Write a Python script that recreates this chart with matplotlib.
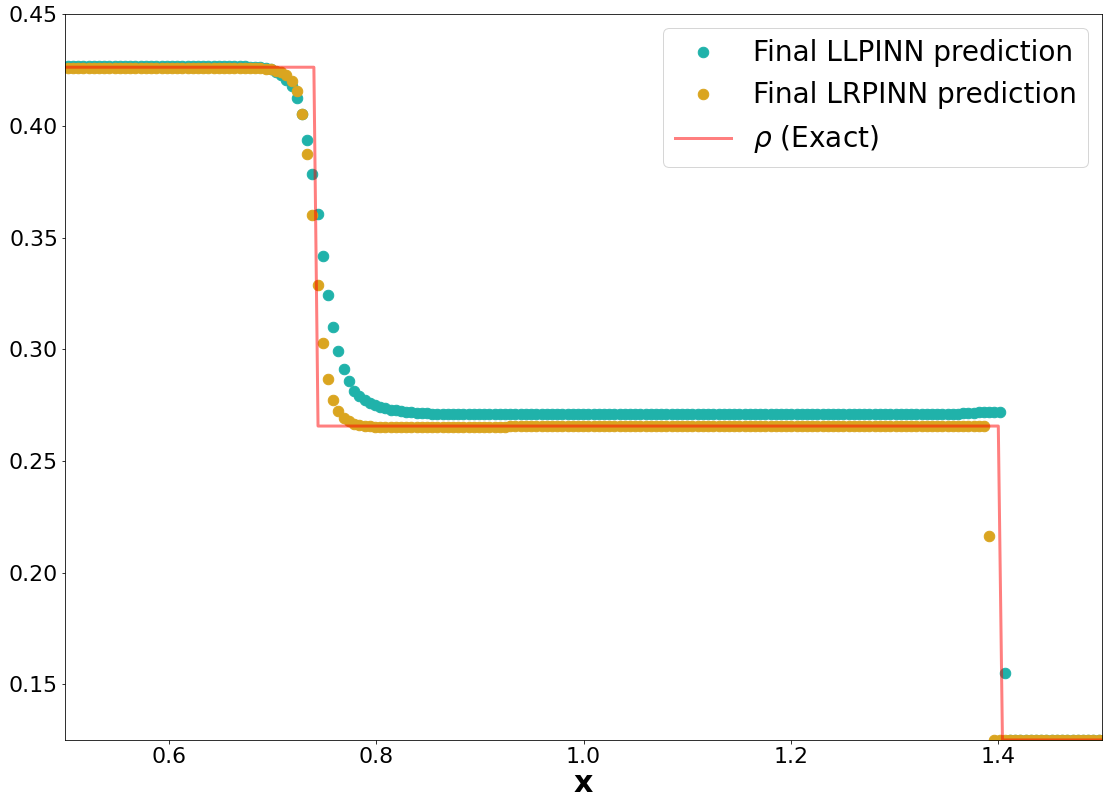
import numpy as np
import matplotlib
matplotlib.use("Agg")
import matplotlib.pyplot as plt

# x grid of the predictions (sampled points)
x_grid = np.linspace(0.5027, 0.5027 + 0.00502 * 199, 200)

llpinn_rho = [
    0.4268, 0.4268, 0.4268, 0.4268, 0.4268, 0.4268, 0.4268, 0.4268, 0.4268, 0.4268,
    0.4268, 0.4268, 0.4268, 0.4268, 0.4268, 0.4268, 0.4268, 0.4268, 0.4268, 0.4268,
    0.4268, 0.4268, 0.4268, 0.4268, 0.4268, 0.4268, 0.4268, 0.4268, 0.4268, 0.4268,
    0.4268, 0.4268, 0.4268, 0.4268, 0.4267, 0.4266, 0.4265, 0.4263, 0.4260, 0.4254,
    0.4243, 0.4226, 0.4205, 0.4179, 0.4124, 0.4052, 0.3937, 0.3783, 0.3605, 0.3418,
    0.3242, 0.3098, 0.2991, 0.2911, 0.2857, 0.2814, 0.2790, 0.2772, 0.2759, 0.2749,
    0.2741, 0.2735, 0.2730, 0.2726, 0.2723, 0.2720, 0.2718, 0.2716, 0.2714, 0.2713,
    0.2712, 0.2711, 0.2710, 0.2710, 0.2710, 0.2710, 0.2710, 0.2710, 0.2710, 0.2710,
    0.2710, 0.2710, 0.2710, 0.2710, 0.2710, 0.2710, 0.2710, 0.2710, 0.2710, 0.2710,
    0.2710, 0.2710, 0.2710, 0.2710, 0.2710, 0.2710, 0.2710, 0.2710, 0.2710, 0.2710,
    0.2710, 0.2710, 0.2710, 0.2710, 0.2710, 0.2710, 0.2710, 0.2710, 0.2710, 0.2710,
    0.2710, 0.2710, 0.2710, 0.2710, 0.2710, 0.2710, 0.2710, 0.2710, 0.2710, 0.2710,
    0.2710, 0.2710, 0.2710, 0.2710, 0.2710, 0.2710, 0.2710, 0.2710, 0.2710, 0.2710,
    0.2710, 0.2710, 0.2710, 0.2710, 0.2710, 0.2710, 0.2710, 0.2710, 0.2710, 0.2710,
    0.2710, 0.2710, 0.2710, 0.2710, 0.2710, 0.2710, 0.2710, 0.2710, 0.2710, 0.2710,
    0.2710, 0.2710, 0.2710, 0.2710, 0.2710, 0.2710, 0.2710, 0.2710, 0.2710, 0.2710,
    0.2710, 0.2710, 0.2710, 0.2710, 0.2710, 0.2710, 0.2710, 0.2710, 0.2710, 0.2710,
    0.2710, 0.2712, 0.2714, 0.2715, 0.2716, 0.2717, 0.2717, 0.2717, 0.2718, 0.2718,
    0.1552, 0.1250, 0.1250, 0.1250, 0.1250, 0.1250, 0.1250, 0.1250, 0.1250, 0.1250,
    0.1250, 0.1250, 0.1250, 0.1250, 0.1250, 0.1250, 0.1250, 0.1250, 0.1250, 0.1250,
]

lrpinn_rho = [
    0.4260, 0.4260, 0.4260, 0.4260, 0.4260, 0.4260, 0.4260, 0.4260, 0.4260, 0.4260,
    0.4260, 0.4260, 0.4260, 0.4260, 0.4260, 0.4260, 0.4260, 0.4260, 0.4260, 0.4260,
    0.4260, 0.4260, 0.4260, 0.4260, 0.4260, 0.4260, 0.4260, 0.4260, 0.4260, 0.4260,
    0.4260, 0.4260, 0.4260, 0.4260, 0.4260, 0.4260, 0.4260, 0.4259, 0.4257, 0.4253,
    0.4247, 0.4240, 0.4226, 0.4203, 0.4155, 0.4052, 0.3874, 0.3601, 0.3287, 0.3030,
    0.2865, 0.2771, 0.2724, 0.2694, 0.2677, 0.2667, 0.2661, 0.2657, 0.2655, 0.2653,
    0.2652, 0.2652, 0.2652, 0.2652, 0.2652, 0.2652, 0.2652, 0.2652, 0.2652, 0.2652,
    0.2652, 0.2652, 0.2652, 0.2652, 0.2652, 0.2652, 0.2652, 0.2652, 0.2652, 0.2652,
    0.2652, 0.2652, 0.2652, 0.2652, 0.2652, 0.2658, 0.2658, 0.2658, 0.2658, 0.2658,
    0.2658, 0.2658, 0.2658, 0.2658, 0.2658, 0.2658, 0.2658, 0.2658, 0.2658, 0.2658,
    0.2658, 0.2658, 0.2658, 0.2658, 0.2658, 0.2658, 0.2658, 0.2658, 0.2658, 0.2658,
    0.2658, 0.2658, 0.2658, 0.2658, 0.2658, 0.2658, 0.2658, 0.2658, 0.2658, 0.2658,
    0.2658, 0.2658, 0.2658, 0.2658, 0.2658, 0.2658, 0.2658, 0.2658, 0.2658, 0.2658,
    0.2658, 0.2658, 0.2658, 0.2658, 0.2658, 0.2658, 0.2658, 0.2658, 0.2658, 0.2658,
    0.2658, 0.2658, 0.2658, 0.2658, 0.2658, 0.2658, 0.2658, 0.2658, 0.2658, 0.2658,
    0.2658, 0.2658, 0.2658, 0.2658, 0.2658, 0.2658, 0.2658, 0.2658, 0.2658, 0.2658,
    0.2658, 0.2658, 0.2658, 0.2658, 0.2658, 0.2658, 0.2658, 0.2658, 0.2658, 0.2658,
    0.2658, 0.2658, 0.2658, 0.2658, 0.2658, 0.2658, 0.2658, 0.2163, 0.1250, 0.1250,
    0.1250, 0.1250, 0.1250, 0.1250, 0.1250, 0.1250, 0.1250, 0.1250, 0.1250, 0.1250,
    0.1250, 0.1250, 0.1250, 0.1250, 0.1250, 0.1250, 0.1250, 0.1250, 0.1250, 0.1250,
]

# Exact solution (piecewise constant, sampled)
exact_x = [0.5, 0.740, 0.744, 1.400, 1.404, 1.5]
exact_rho = [0.4263, 0.4263, 0.2656, 0.2656, 0.1250, 0.1250]

W, H, DPI = 1105, 805, 72
fig = plt.figure(figsize=(W / DPI, H / DPI), dpi=DPI)
ax = fig.add_axes([65 / W, 1 - 740 / H, (1102 - 65) / W, (740 - 14.3) / H])

ax.plot(x_grid, llpinn_rho, 'o', color='lightseagreen', ms=10.5,
        label='Final LLPINN prediction')
ax.plot(x_grid, lrpinn_rho, 'o', color='goldenrod', ms=10.5,
        label='Final LRPINN prediction')
ax.plot(exact_x, exact_rho, '-', color='red', alpha=0.5, lw=3,
        label=r'$\rho$ (Exact)')

ax.set_xlim(0.5, 1.5)
ax.set_ylim(0.125, 0.45)
ax.set_xticks([0.6, 0.8, 1.0, 1.2, 1.4])
ax.set_yticks([0.15, 0.20, 0.25, 0.30, 0.35, 0.40, 0.45])
ax.set_yticklabels(['0.15', '0.20', '0.25', '0.30', '0.35', '0.40', '0.45'])
ax.tick_params(labelsize=22)
ax.set_xlabel('x', fontsize=30, fontweight='bold', labelpad=2)

ax.legend(loc='upper right', fontsize=28)

fig.savefig('out.png', dpi=DPI)
